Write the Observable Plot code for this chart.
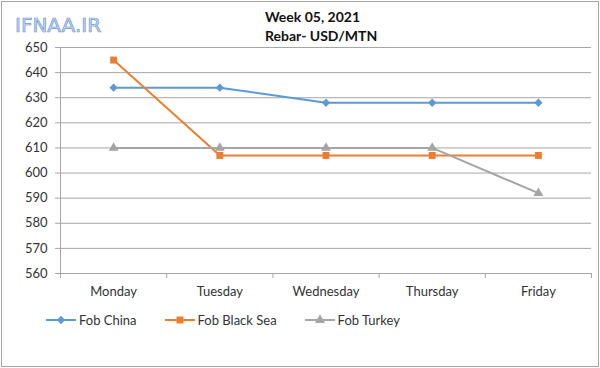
<!DOCTYPE html>
<html><head><meta charset="utf-8">
<script src="https://cdn.jsdelivr.net/npm/d3@7"></script>
<script src="https://cdn.jsdelivr.net/npm/@observablehq/plot@0.6"></script>
<style>
body{margin:0;background:#fff;}
#wrap{position:relative;width:600px;height:368px;overflow:hidden;font-family:Lato,sans-serif;background:#fff;}
#frame{position:absolute;left:1px;top:1px;width:596px;height:364px;border:1px solid #a6a6a6;pointer-events:none;}
#logo{position:absolute;left:15px;top:12px;font-family:"DejaVu Sans",sans-serif;font-size:20px;line-height:26px;color:#c9d8f2;-webkit-text-stroke:0.7px #6f97d8;}
#title{position:absolute;left:265px;top:7px;font-weight:bold;font-size:14px;line-height:19px;color:#111;}
#chart{position:absolute;left:0;top:0;}
#legend{position:absolute;left:46px;top:311px;height:18px;display:flex;align-items:center;gap:28px;font-size:13px;color:#333;}
.item{display:flex;align-items:center;}
.item svg{margin-right:3px;}
</style></head>
<body>
<div id="wrap">
  <div id="chart"></div>
  <div id="logo">IFNAA.IR</div>
  <div id="title"><div>Week 05, 2021</div><div>Rebar- USD/MTN</div></div>
  <div id="legend"></div>
  <div id="frame"></div>
</div>
<script>
const days = ["Monday", "Tuesday", "Wednesday", "Thursday", "Friday"];
const seriesNames = ["Fob China", "Fob Black Sea", "Fob Turkey"];
const china = [634, 634, 628, 628, 628];
const blackSea = [645, 607, 607, 607, 607];
const turkey = [610, 610, 610, 610, 592];
const yTicks = [560, 570, 580, 590, 600, 610, 620, 630, 640, 650];
const colors = ["#5b9bd5", "#ed7d31", "#a5a5a5"];
const symbols = ["square", "square", "triangle"];
const rotations = [45, 0, 0];
const radii = [3.3, 3.9, 3.7];

const values = [china, blackSea, turkey];
const idx = days.map((d, i) => i);
const bounds = [-0.5, ...idx.map(i => i + 0.5)];

const marks = [
  Plot.gridY(yTicks, {stroke: "#a6a6a6", strokeOpacity: 1}),
  Plot.ruleX([-0.5], {stroke: "#a6a6a6"}),
  Plot.axisY(yTicks, {tickSize: 5, tickPadding: 8, stroke: "#a6a6a6", fill: "#333", fontSize: 13, label: null}),
  Plot.axisX(bounds, {tickSize: 5, tickFormat: () => "", stroke: "#a6a6a6", label: null}),
  Plot.axisX(idx, {tickSize: 0, tickPadding: 13, tickFormat: i => days[i], fill: "#333", fontSize: 13, label: null})
];
values.forEach((vals, s) => {
  const rows = vals.map((v, i) => ({i, v, s: seriesNames[s]}));
  marks.push(Plot.line(rows, {x: "i", y: "v", stroke: colors[s], strokeWidth: 2}));
  marks.push(Plot.dot(rows, {x: "i", y: "v", symbol: () => symbols[s], fill: colors[s], stroke: "none", r: radii[s], rotate: rotations[s]}));
});

const chart = Plot.plot({
  width: 600, height: 305,
  marginLeft: 60, marginRight: 9, marginTop: 47, marginBottom: 32,
  x: {type: "linear", domain: [-0.5, 4.5]},
  y: {domain: [560, 650]},
  symbol: {type: "identity"},
  style: {fontFamily: "Lato, sans-serif", fontSize: "13px", background: "transparent", overflow: "visible"},
  marks
});
document.getElementById("chart").appendChild(chart);

const legend = d3.select("#legend");
seriesNames.forEach((name, s) => {
  const item = legend.append("div").attr("class", "item");
  const svg = item.append("svg").attr("width", 30).attr("height", 12);
  svg.append("line").attr("x1", 0).attr("x2", 30).attr("y1", 6).attr("y2", 6).attr("stroke", colors[s]).attr("stroke-width", 2);
  const sym = d3.symbol(s === 2 ? d3.symbolTriangle : d3.symbolSquare, Math.PI * radii[s] * radii[s]);
  svg.append("path").attr("d", sym()).attr("fill", colors[s])
    .attr("transform", `translate(15,6) rotate(${rotations[s]})`);
  item.append("span").text(name);
});
</script>
</body></html>
